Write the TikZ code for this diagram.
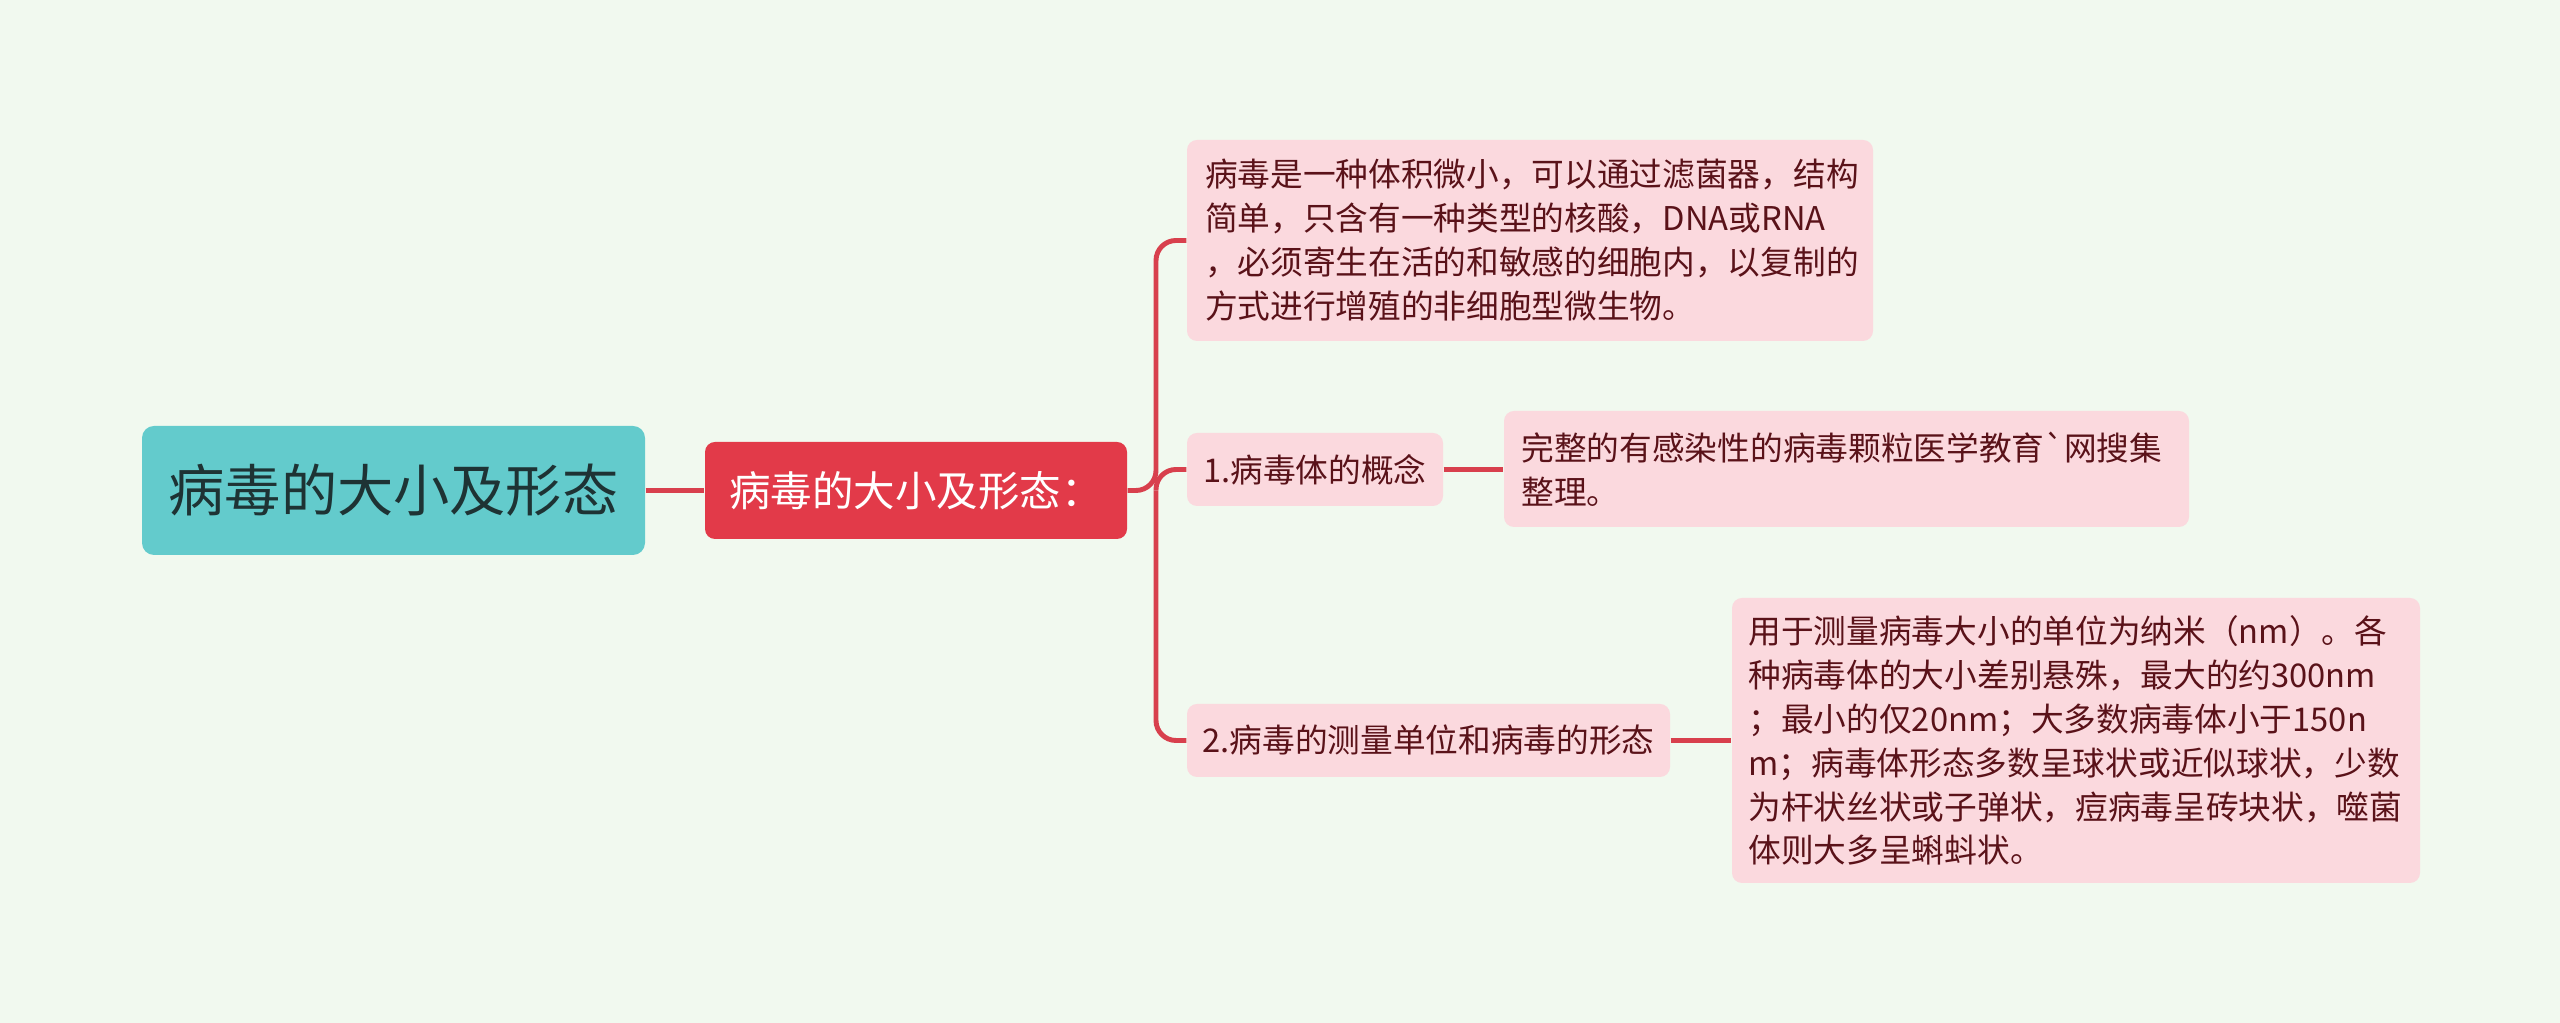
\documentclass[tikz,border=0pt]{standalone}
\usepackage{fontspec}
\setmainfont{Noto Sans CJK SC}
\newfontfamily\plainfont{Noto Sans CJK SC}
\usetikzlibrary{calc}

\definecolor{bgcol}{HTML}{F1F9EF}
\definecolor{rootcol}{HTML}{63CBCC}
\definecolor{roottxt}{HTML}{1E3334}
\definecolor{subcol}{HTML}{E23A49}
\definecolor{leafcol}{HTML}{FBD9DE}
\definecolor{leaftxt}{HTML}{5A1219}
\definecolor{linecol}{HTML}{D8404D}

\begin{document}
\begin{tikzpicture} [
        box/.style={rounded corners=0.1cm, inner sep=0pt, align=left},
        rootbox/.style={box, fill=rootcol, text=roottxt, rounded corners=0.12cm, font=\fontsize{16}{19}\selectfont},
        subbox/.style={box, fill=subcol, text=white, font=\fontsize{11.8}{14}\selectfont},
        leafbox/.style={box, fill=leafcol, text=leaftxt, font=\fontsize{9.3}{12.5}\selectfont},
        link/.style={draw=linecol, line width=1.4pt, rounded corners=0.2cm}
    ]
        \def\H{10.23}

        \useasboundingbox (0,0) rectangle (25.6,\H);
        \fill[bgcol] (0,0) rectangle (25.6,\H);

        % main nodes
        \node[rootbox, minimum width=5.03cm, minimum height=1.29cm] (root) at (3.935, \H-4.905) {病毒的大小及形态};
        \node[subbox, minimum width=4.22cm, minimum height=0.97cm] (sub) at (9.16, \H-4.905) {病毒的大小及形态：};

        \node[leafbox, minimum width=6.86cm, minimum height=2.01cm, text width=6.5cm] (def) at (15.30, \H-2.405)
            {病毒是一种体积微小，可以通过滤菌器，结构\\简单，只含有一种类型的核酸，DNA或RNA\\，必须寄生在活的和敏感的细胞内，以复制的\\方式进行增殖的非细胞型微生物。};
        \node[leafbox, minimum width=2.56cm, minimum height=0.73cm] (concept) at (13.15, \H-4.695) {1.病毒体的概念};
        \node[leafbox, minimum width=4.83cm, minimum height=0.73cm] (measure) at (14.285, \H-7.405) {2.病毒的测量单位和病毒的形态};

        \node[leafbox, minimum width=6.85cm, minimum height=1.16cm, text width=6.5cm] (virion) at (18.465, \H-4.69)
            {完整的有感染性的病毒颗粒医学教育{\plainfont`}网搜集\\整理。};
        \node[leafbox, minimum width=6.88cm, minimum height=2.85cm, text width=6.55cm] (size) at (20.76, \H-7.405)
            {用于测量病毒大小的单位为纳米（nm）。各\\种病毒体的大小差别悬殊，最大的约300nm\\；最小的仅20nm；大多数病毒体小于150n\\m；病毒体形态多数呈球状或近似球状，少数\\为杆状丝状或子弹状，痘病毒呈砖块状，噬菌\\体则大多呈蝌蚪状。};

        \coordinate (fork) at (11.56, \H-4.905);

        \draw[link] (root.east) -- (sub.west);
        \draw[link] (sub.east) -- (fork) |- (def.west);
        \draw[link] (fork) |- (concept.west);
        \draw[link] (fork) |- (measure.west);
        \draw[link] (concept.east) -- (concept.east -| virion.west);
        \draw[link] (measure.east) -- (measure.east -| size.west);

    \end{tikzpicture}
\end{document}
